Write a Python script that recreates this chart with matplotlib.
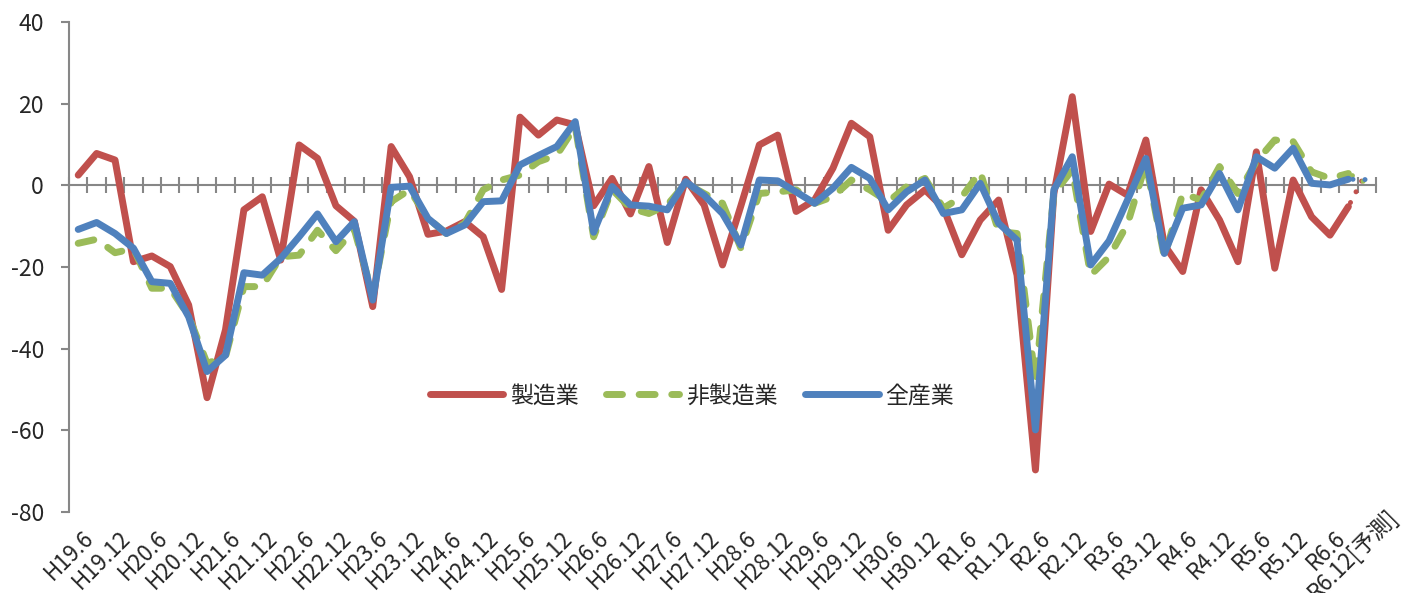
import numpy as np
import matplotlib
matplotlib.use('Agg')
import matplotlib.pyplot as plt
from matplotlib.transforms import offset_copy

plt.rcParams['font.family'] = ['Noto Sans CJK JP', 'DejaVu Sans']
plt.rcParams['axes.unicode_minus'] = False

# category labels (every second quarter is labelled)
tick_labels = ['H19.6', 'H19.12', 'H20.6', 'H20.12', 'H21.6', 'H21.12', 'H22.6', 'H22.12',
               'H23.6', 'H23.12', 'H24.6', 'H24.12', 'H25.6', 'H25.12', 'H26.6', 'H26.12',
               'H27.6', 'H27.12', 'H28.6', 'H28.12', 'H29.6', 'H29.12', 'H30.6', 'H30.12',
               'R1.6', 'R1.12', 'R2.6', 'R2.12', 'R3.6', 'R3.12', 'R4.6', 'R4.12',
               'R5.6', 'R5.12', 'R6.6', 'R6.12[予測]']

series_names = ['製造業', '非製造業', '全産業']

manufacturing = [2.5, 7.8, 6.2, -18.7, -17.3, -19.9, -29.3, -52.0, -35.4, -6.0,
                 -2.8, -18.3, 9.9, 6.6, -5.0, -8.8, -29.7, 9.5, 2.1, -12.0,
                 -11.2, -8.9, -12.6, -25.5, 16.7, 12.3, 16.0, 14.8, -5.0, 1.7,
                 -7.0, 4.6, -14.0, 1.5, -4.8, -19.5, -5.0, 9.9, 12.3, -6.4,
                 -3.6, 4.2, 15.2, 11.9, -11.0, -4.8, -1.1, -5.5, -17.0, -8.5,
                 -3.6, -22.0, -69.7, -2.0, 21.7, -11.3, 0.3, -2.4, 11.1, -14.6,
                 -21.1, -1.1, -8.5, -18.7, 8.2, -20.3, 1.3, -7.7, -12.2, -5.2,
                 3.5]

non_manufacturing = [-14.2, -13.2, -16.5, -15.5, -25.2, -25.2, -32.0, -43.6, -42.0, -24.8,
                     -24.8, -17.5, -17.1, -11.0, -16.0, -10.8, -27.0, -4.0, -1.1, -8.1,
                     -11.8, -9.3, -1.1, 1.3, 2.5, 5.8, 7.4, 14.4, -12.6, -1.0,
                     -5.6, -6.9, -4.8, 0.5, -2.0, -4.4, -15.4, -2.0, -1.6, -1.1,
                     -4.4, -2.8, 1.3, -1.1, -4.0, -0.3, 1.7, -5.6, -2.8, 3.3,
                     -11.3, -11.8, -48.0, -2.0, 3.8, -22.0, -17.5, -9.5, 5.4, -17.5,
                     -2.0, -3.6, 4.6, -2.0, 5.8, 11.1, 10.7, 3.3, 1.7, 2.9,
                     0.5]

all_industries = [-10.8, -9.1, -11.8, -15.4, -23.6, -24.0, -32.2, -45.6, -41.6, -21.4,
                  -22.0, -17.9, -12.6, -7.0, -13.8, -8.9, -28.1, -0.5, -0.2, -8.1,
                  -11.8, -9.7, -4.0, -3.8, 5.0, 7.3, 9.5, 15.6, -11.5, -0.3,
                  -4.8, -5.1, -6.0, 0.9, -2.4, -6.9, -14.6, 1.3, 1.1, -1.6,
                  -4.4, -0.7, 4.4, 1.7, -6.0, -1.6, 1.3, -6.9, -6.0, 0.5,
                  -9.3, -13.4, -59.9, -1.1, 7.0, -19.5, -13.6, -3.6, 6.6, -16.7,
                  -5.6, -4.8, 2.9, -6.0, 7.0, 4.2, 9.1, 0.5, 0.1, 1.5,
                  1.4]

colors = ['#C0504D', '#9BBB59', '#4F81BD']
axis_col = '#878787'
text_col = '#262626'

W, H = 1403, 593
fig = plt.figure(figsize=(W / 100, H / 100), dpi=100)
ax = fig.add_axes([69 / W, 1 - 512 / H, (1376 - 69) / W, (512 - 22) / H])

n = len(manufacturing)
x = np.arange(n)
lw = 5.0
datas = [manufacturing, non_manufacturing, all_industries]
styles = ['-', (0, (2.3, 2.4)), '-']
for d, c, ls, name in zip(datas, colors, styles, series_names):
    d = np.asarray(d)
    ax.plot(x[:n - 1], d[:n - 1], color=c, lw=lw, ls=ls, label=name,
            solid_capstyle='round', solid_joinstyle='round',
            dash_capstyle='round', dash_joinstyle='round', zorder=3)
    # forecast segment (round dots)
    ax.plot(x[n - 2:], d[n - 2:], color=c, lw=3.6, ls=(1.5, (0.01, 2.4)),
            dash_capstyle='round', zorder=3)

ax.set_xlim(-0.5, n - 0.5)
ax.set_ylim(-80, 40)
ax.set_yticks(np.arange(-80, 41, 20))

for s in ['top', 'right']:
    ax.spines[s].set_visible(False)
ax.spines['left'].set_color(axis_col)
ax.spines['left'].set_linewidth(1.5)
ax.spines['bottom'].set_position(('data', 0))
ax.spines['bottom'].set_color(axis_col)
ax.spines['bottom'].set_linewidth(1.5)
ax.spines['bottom'].set_zorder(1)

ax.set_xticks(np.arange(-0.5, n, 1))
ax.tick_params(axis='x', direction='inout', length=11, width=1.5, color=axis_col,
               labelbottom=False)
ax.tick_params(axis='y', direction='out', length=6, width=1.5, color=axis_col,
               labelsize=16.5, labelcolor=text_col, pad=12)

base_tr = ax.get_xaxis_transform()
for k, (lab, pos) in enumerate(zip(tick_labels, x[::2])):
    tr = base_tr
    if k == len(tick_labels) - 1:
        # long forecast label sits higher, as in the original chart
        tr = offset_copy(base_tr, fig=fig, x=15, y=22, units='dots')
    ax.text(pos + 0.2, -0.03, lab, transform=tr,
            rotation=45, ha='right', va='top', rotation_mode='anchor',
            fontsize=16, color=text_col)

leg = ax.legend(loc='center', bbox_to_anchor=(692 / W, 1 - 396 / H),
                bbox_transform=fig.transFigure, ncol=3, frameon=False,
                handlelength=3.2, columnspacing=1.2, handletextpad=0.3,
                fontsize=16.5)
for t in leg.get_texts():
    t.set_color(text_col)

fig.savefig('out.png', dpi=100)
